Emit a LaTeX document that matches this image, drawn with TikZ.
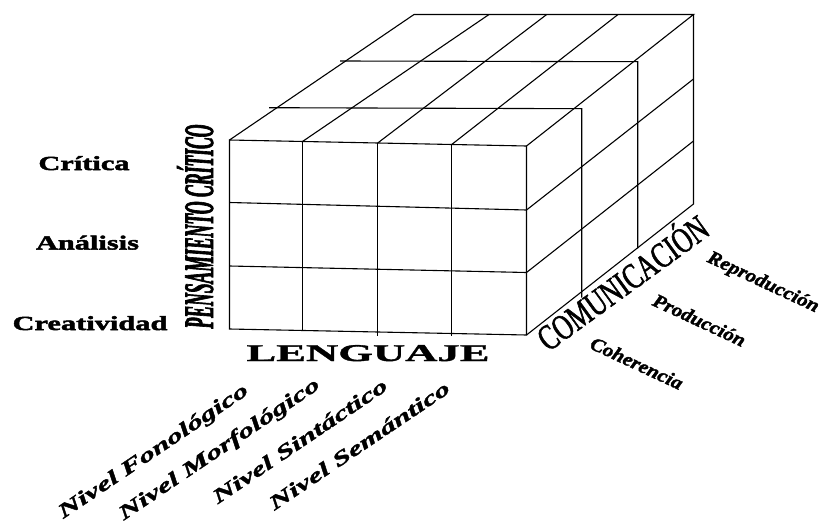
\documentclass[tikz,border=0pt]{standalone}
\usepackage{fontspec}
\setmainfont{Liberation Serif}
\newfontfamily\sidefont{Liberation Serif}[FakeStretch=1.52,FakeBold=2.5]
\newfontfamily\lengfont{Liberation Serif}[FakeStretch=1.86,FakeBold=1.5]
\newfontfamily\pensfont{Liberation Serif}[FakeStretch=0.42,FakeBold=1.5]
\newfontfamily\comfont{Liberation Serif}[FakeStretch=0.71,FakeBold=1.5]
\newfontfamily\nivfont{Liberation Serif}[FakeStretch=1.58,FakeBold=1.8]
\newfontfamily\subfont{Liberation Serif}[FakeStretch=1.1,FakeBold=2]
\tikzset{
  edge/.style={line width=1.1pt, line join=miter},
  lab/.style={inner sep=0pt, outer sep=0pt, anchor=base},
  sidelab/.style={lab, font=\sidefont\bfseries\fontsize{20}{20}\selectfont},
  nivlab/.style={lab, rotate=34, font=\nivfont\bfseries\itshape\fontsize{20}{20}\selectfont},
  sublab/.style={lab, rotate=-25, font=\subfont\bfseries\itshape\fontsize{19}{19}\selectfont},
}
\begin{document}
\begin{tikzpicture}[x=1pt,y=-1pt]
\useasboundingbox (0,0) rectangle (822,525);
% front face
\draw[edge] (229.5,140) -- (526.5,146) -- (526.5,335) -- (229.5,329) -- cycle;
\draw[edge] (229.5,202.5) -- (526.5,210);
\draw[edge] (229.5,266) -- (526.5,272.5);
\draw[edge] (302.5,141.5) -- (302.5,330.5);
\draw[edge] (377.7,143) -- (377.7,336);
\draw[edge] (451.7,144.5) -- (451.7,335.5);
% top face
\draw[edge] (229.5,140) -- (414,14.5) -- (693.5,14.5) -- (526.5,146);
\draw[edge] (302.5,141.5) -- (489,14.5);
\draw[edge] (377.7,143) -- (546.7,14.5);
\draw[edge] (451.7,144.5) -- (618,14.5);
\draw[edge] (269,107.7) -- (581.7,108.7) -- (581.7,297.5);
\draw[edge] (340,61) -- (637.7,61.7) -- (637.7,248.3);
% right face
\draw[edge] (693.5,14.5) -- (693.5,204) -- (526.5,335);
\draw[edge] (526.5,210) -- (693.5,79);
\draw[edge] (526.5,272.5) -- (693.5,141);
% labels
\node[sidelab] (cri) at (84,170) {Crítica};
\node[sidelab] (ana) at (87.5,249.5) {Análisis};
\node[sidelab] (cre) at (90,330) {Creatividad};
\node[lab, rotate=90, font=\pensfont\bfseries\itshape\fontsize{42}{42}\selectfont] (pens) at (213,226.5) {PENSAMIENTO CRÍTICO};
\node[lab, font=\lengfont\bfseries\fontsize{24}{24}\selectfont] (len) at (368,361) {LENGUAJE};
\node[lab, rotate=36, font=\comfont\fontsize{36}{36}\selectfont] (com) at (630,293) {COMUNICACIÓN};
\node[sublab] (rep) at (761,287) {Reproducción};
\node[sublab] (pro) at (696.7,326) {Producción};
\node[sublab] (coh) at (634,369) {Coherencia};
\node[nivlab] (fon) at (156.5,456) {Nivel\hspace{0.35em}Fonológico};
\node[nivlab] (mor) at (222.5,454) {Nivel Morfológico};
\node[nivlab] (sin) at (303.5,446.5) {Nivel Sintáctico};
\node[nivlab] (sem) at (363,451) {Nivel Semántico};
\end{tikzpicture}
\end{document}
